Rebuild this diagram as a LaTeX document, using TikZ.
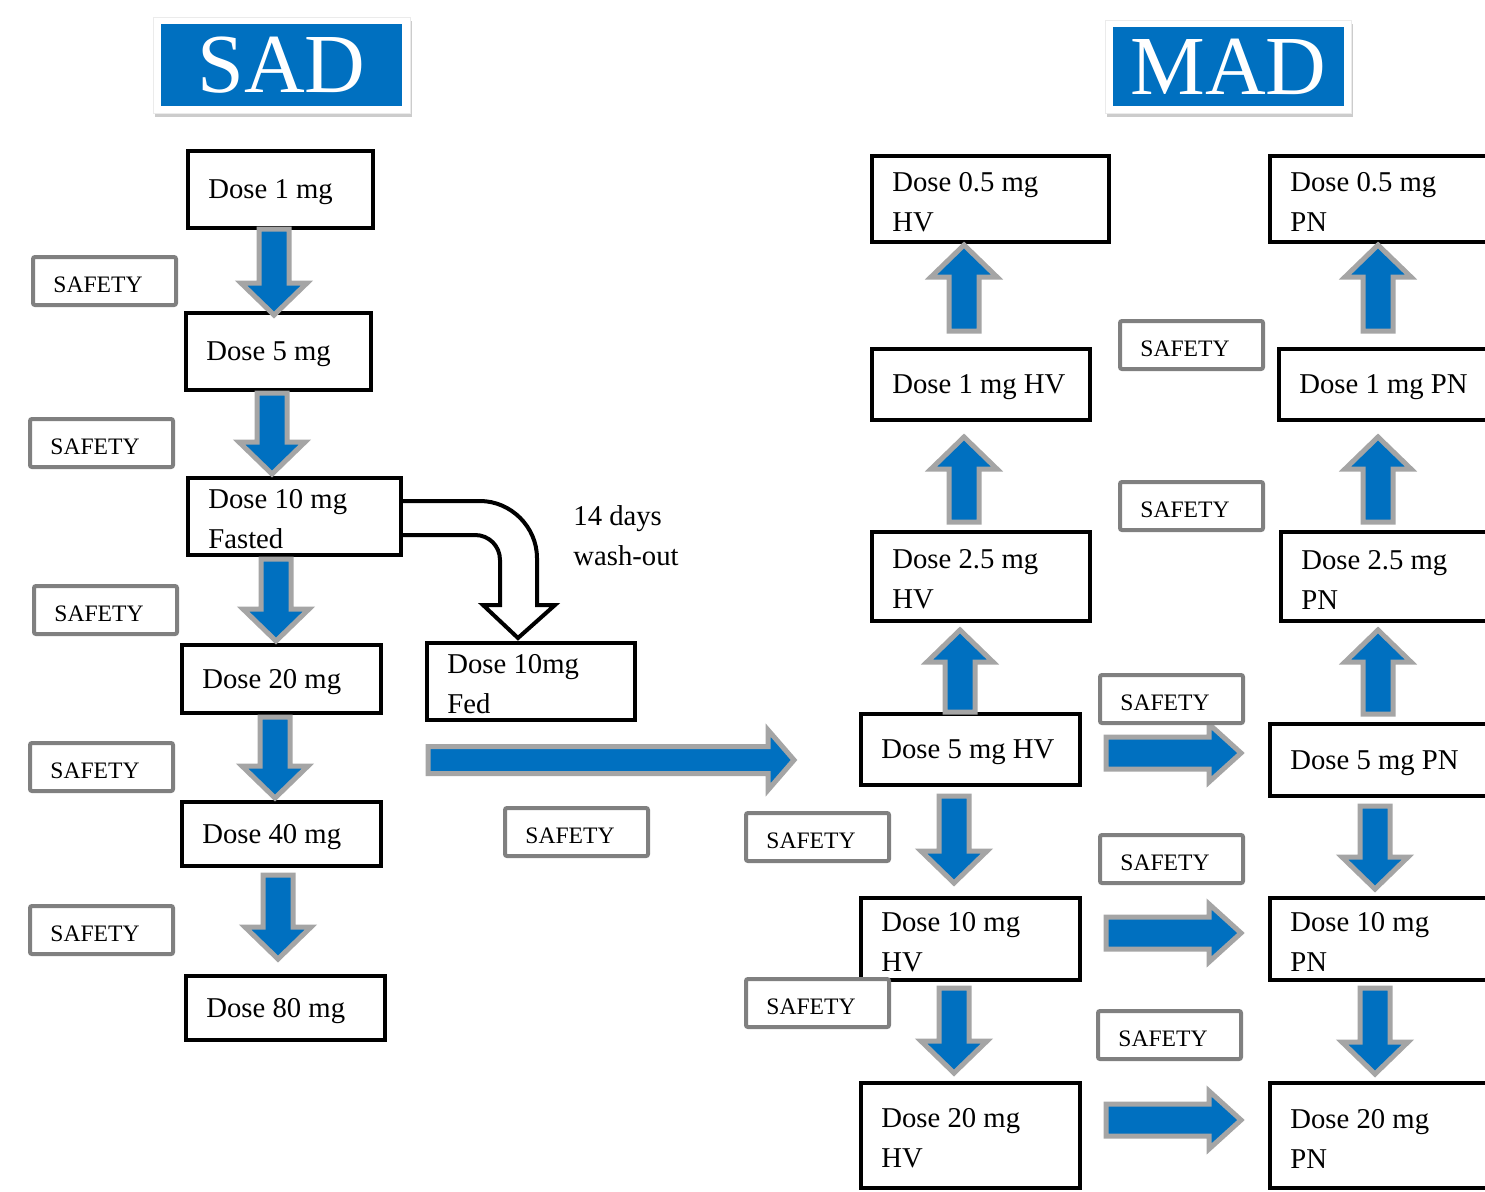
\documentclass[tikz,border=0pt]{standalone}
\usepackage{fontspec}
\setmainfont{Liberation Serif}
\usetikzlibrary{shadows}
\definecolor{ablue}{HTML}{0070C0}
\definecolor{agray}{HTML}{A5A5A5}
\definecolor{sgray}{HTML}{808080}
\tikzset{
  dbox/.style={draw=black, line width=2.2pt, fill=white, anchor=north west, outer sep=0pt, inner sep=0pt},
  dtext/.style={anchor=west, inner sep=0pt, align=left, font=\fontsize{14.35}{20}\selectfont},
  sbox/.style={draw=sgray, line width=2pt, rounded corners=1pt, fill=white, anchor=north west, outer sep=0pt,
    inner sep=0pt, minimum width=71.5pt, minimum height=24pt},
  stext/.style={anchor=west, inner sep=0pt, font=\fontsize{11.8}{14}\selectfont},
  barrow/.style={draw=agray, fill=ablue, line width=2.5pt, line join=miter},
  uarrow/.style={draw=black, fill=white, line width=2pt, line join=miter},
  title/.style={fill=ablue, text=white, font=\fontsize{42}{42}\selectfont, inner sep=0pt, outer sep=0pt},
  tframe/.style={fill=white, draw=black!8, line width=0.4pt, drop shadow={opacity=0.4, shadow xshift=0.8pt, shadow yshift=-2pt}}
}
% box: name, x1, y1, x2, y2, text
\newcommand\dosebox[6]{%
  \node[dbox, minimum width={(#4-#2)*0.5pt}, minimum height={(#5-#3)*0.5pt}] (#1) at (#2,#3) {};
  \node[dtext] (#1-t) at ([xshift=10pt, yshift=-1.5pt]#1.west) {#6};}
\newcommand\safebox[3]{\node[sbox] (#1) at (#2,#3) {};
  \node[stext] (#1-t) at ([xshift=10pt, yshift=-1.8pt]#1.west) {SAFETY};}
% down arrow: x, top, tip
\newcommand\darr[3]{\draw[barrow] (#1-15,#2) -- (#1+15,#2) -- (#1+15,#3-32) -- (#1+33,#3-32) -- (#1,#3) -- (#1-33,#3-32) -- (#1-15,#3-32) -- cycle;}
% up arrow: x, bottom, tip
\newcommand\uarr[3]{\draw[barrow] (#1-15,#2) -- (#1+15,#2) -- (#1+15,#3+32) -- (#1+33,#3+32) -- (#1,#3) -- (#1-33,#3+32) -- (#1-15,#3+32) -- cycle;}
% right arrow: y, left, tip, shaft half, head half, head length
\newcommand\rarr[6]{\draw[barrow] (#2,#1-#4) -- (#3-#6,#1-#4) -- (#3-#6,#1-#5) -- (#3,#1) -- (#3-#6,#1+#5) -- (#3-#6,#1+#4) -- (#2,#1+#4) -- cycle;}
\begin{document}
\begin{tikzpicture}[x=0.5pt, y=-0.5pt]
\path[use as bounding box, clip] (0,0) rectangle (1485,1191);
\fill[white] (0,0) rectangle (1485,1191);

% titles
\path[tframe] (153,17) rectangle (410,113);
\node[title, minimum width=120.5pt, minimum height=41pt] (sad) at (281.5,65) {SAD};
\path[tframe] (1105,20) rectangle (1351,113);
\node[title, minimum width=115.5pt, minimum height=39.5pt] (mad) at (1228.5,66.5) {MAD};

% U-turn arrow (wash-out)
\draw[uarrow] (395,501) -- (480,501) .. controls (511,501) and (537,527) .. (537,558) -- (537,605)
  -- (555,605) -- (518,638) -- (483,605) -- (500,605) -- (500,560)
  .. controls (500,546) and (489,535) .. (475,535) -- (395,535) -- cycle;
\node[anchor=west, inner sep=0pt, align=left, font=\fontsize{14.35}{20}\selectfont] (wash) at (573,536) {14 days\\wash-out};

% SAD boxes
\dosebox{d1}{188}{151}{373}{228}{Dose 1 mg}
\dosebox{d5}{186}{313}{371}{390}{Dose 5 mg}
\dosebox{d10}{188}{478}{401}{555}{Dose 10 mg\\Fasted}
\dosebox{d20}{182}{645}{381}{713}{Dose 20 mg}
\dosebox{d40}{182}{802}{381}{866}{Dose 40 mg}
\dosebox{d80}{186}{976}{385}{1040}{Dose 80 mg}
\dosebox{dfed}{427}{643}{635}{720}{Dose 10mg\\Fed}

% MAD HV
\dosebox{h05}{872}{156}{1109}{242}{Dose 0.5 mg\\HV}
\dosebox{h1}{872}{349}{1090}{420}{Dose 1 mg HV}
\dosebox{h25}{872}{532}{1090}{621}{Dose 2.5 mg\\HV}
\dosebox{h5}{861}{714}{1080}{785}{Dose 5 mg HV}
\dosebox{h10}{861}{898}{1080}{980}{Dose 10 mg\\HV}
\dosebox{h20}{861}{1083}{1080}{1188}{Dose 20 mg\\HV}

% MAD PN
\dosebox{p05}{1270}{156}{1500}{242}{Dose 0.5 mg\\PN}
\dosebox{p1}{1279}{349}{1500}{420}{Dose 1 mg PN}
\dosebox{p25}{1281}{532}{1500}{621}{Dose 2.5 mg\\PN}
\dosebox{p5}{1270}{724}{1500}{796}{Dose 5 mg PN}
\dosebox{p10}{1270}{898}{1500}{980}{Dose 10 mg\\PN}
\dosebox{p20}{1270}{1083}{1500}{1188}{Dose 20 mg\\PN}

% SAD arrows
\darr{274}{229}{315}
\darr{272}{393}{474}
\darr{276}{559}{641}
\darr{275}{717}{798}
\darr{278}{875}{959}

% long arrow SAD -> MAD
\rarr{760}{428}{794}{13.5}{30}{26}

% HV arrows
\uarr{964}{331}{245}
\uarr{964}{522}{437}
\uarr{960}{712}{630}
\darr{954}{796}{883}
\darr{954}{988}{1073}

% PN arrows
\uarr{1378}{331}{245}
\uarr{1378}{522}{437}
\uarr{1378}{714}{630}
\darr{1375}{806}{889}
\darr{1375}{988}{1074}

% HV -> PN arrows
\rarr{753}{1106}{1241}{16}{29}{32}
\rarr{933}{1106}{1241}{16}{29}{32}
\rarr{1120}{1106}{1241}{16}{29}{32}

% SAFETY boxes
\safebox{s1}{33}{257}
\safebox{s2}{30}{419}
\safebox{s3}{34}{586}
\safebox{s4}{30}{743}
\safebox{s5}{30}{906}
\safebox{s6}{505}{808}
\safebox{s7}{746}{813}
\safebox{s8}{746}{979}
\safebox{s9}{1120}{321}
\safebox{s10}{1120}{482}
\safebox{s11}{1100}{675}
\safebox{s12}{1100}{835}
\safebox{s13}{1098}{1011}
\end{tikzpicture}
\end{document}
